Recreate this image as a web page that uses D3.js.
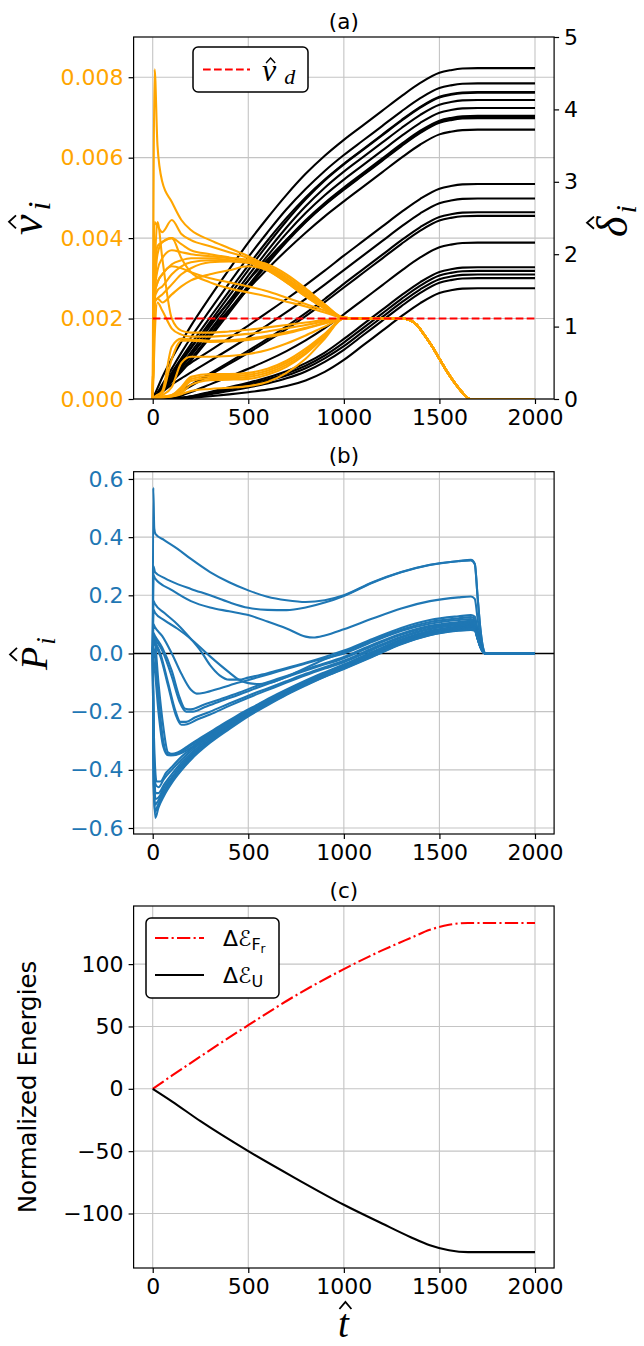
<!DOCTYPE html>
<html><head><meta charset="utf-8">
<script src="https://cdn.jsdelivr.net/npm/d3@7"></script>
<style>body{margin:0;background:#fff}svg{display:block}</style>
</head><body><svg id="c" width="644" height="1346"></svg>
<script>
// ---------------- DATA ----------------
const xTicks = [0, 500, 1000, 1500, 2000];
const vTicks = [0, 2, 4, 6, 8];            // ×1e-3
const dTicks = [0, 1, 2, 3, 4, 5];
const pTicks = [-0.6, -0.4, -0.2, 0, 0.2, 0.4, 0.6];
const eTicks = [-100, -50, 0, 50, 100];

// velocity v_i (×1e-3)
const tVelEarly = [0, 10, 25, 50, 100, 150, 200, 300, 400, 500, 600, 700, 800, 900, 1000];
const tVelTail = [1100, 1200, 1300, 1340, 1380, 1420, 1460, 1500, 1540, 1580, 1620, 1660, 2000];
const velTail = [2.0, 2.0, 2.0, 1.97, 1.85, 1.6, 1.32, 1.0, 0.68, 0.4, 0.16, 0, 0];
const vUpper = [
  [0, 8.2, 6.3, 5.4, 4.9, 4.45, 4.2, 3.95, 3.75, 3.55, 3.3, 3.0, 2.65, 2.3, 2.02],
  [0, 4.4, 4.3, 4.15, 4.45, 4.1, 3.95, 3.8, 3.65, 3.5, 3.25, 2.95, 2.6, 2.27, 2.02],
  [0, 3.0, 3.8, 3.9, 4.0, 3.85, 3.7, 3.6, 3.52, 3.45, 3.25, 2.95, 2.6, 2.28, 2.02],
  [0, 2.6, 3.2, 3.5, 3.7, 3.65, 3.6, 3.55, 3.5, 3.45, 3.35, 3.1, 2.75, 2.35, 2.02],
  [0, 2.6, 2.9, 3.1, 3.35, 3.45, 3.5, 3.5, 3.45, 3.4, 3.3, 3.05, 2.7, 2.35, 2.02],
  [0, 2.5, 2.7, 2.8, 3.1, 3.3, 3.4, 3.45, 3.45, 3.4, 3.25, 2.95, 2.6, 2.28, 2.02],
  [0, 2.4, 2.5, 2.6, 2.85, 3.1, 3.25, 3.4, 3.42, 3.38, 3.2, 2.9, 2.55, 2.25, 2.02],
  [0, 2.4, 2.5, 2.4, 2.6, 2.8, 2.95, 3.1, 3.2, 3.3, 3.2, 2.9, 2.55, 2.25, 2.02],
  [0, 2.5, 3.6, 3.9, 4.0, 3.5, 3.15, 2.9, 2.75, 2.65, 2.55, 2.42, 2.3, 2.15, 2.02],
  [0, 2.6, 2.9, 3.1, 3.3, 3.25, 3.15, 3.0, 2.9, 2.8, 2.68, 2.52, 2.36, 2.2, 2.02]
];
const vLower = [
  [0, 3.0, 4.4, 3.5, 2.0, 1.7, 1.65, 1.65, 1.68, 1.72, 1.78, 1.84, 1.9, 1.96, 2.0],
  [0, 1.5, 2.4, 2.2, 1.75, 1.6, 1.55, 1.55, 1.58, 1.62, 1.68, 1.76, 1.84, 1.93, 2.0],
  [0, 0.05, 0.1, 0.2, 1.3, 1.5, 1.48, 1.45, 1.46, 1.5, 1.57, 1.66, 1.77, 1.89, 2.0],
  [0, 0.05, 0.1, 0.15, 1.0, 1.45, 1.45, 1.42, 1.43, 1.47, 1.54, 1.63, 1.75, 1.88, 2.0],
  [0, 0.02, 0.05, 0.1, 0.3, 0.9, 1.05, 1.05, 1.07, 1.12, 1.22, 1.38, 1.58, 1.8, 2.0],
  [0, 0.02, 0.04, 0.06, 0.1, 0.3, 0.55, 0.62, 0.62, 0.65, 0.75, 0.95, 1.25, 1.62, 2.0],
  [0, 0.02, 0.04, 0.06, 0.1, 0.25, 0.5, 0.57, 0.57, 0.6, 0.7, 0.9, 1.2, 1.6, 2.0],
  [0, 0.02, 0.03, 0.05, 0.08, 0.2, 0.45, 0.52, 0.52, 0.55, 0.65, 0.85, 1.15, 1.57, 2.0],
  [0, 0.01, 0.02, 0.04, 0.07, 0.15, 0.35, 0.47, 0.48, 0.5, 0.6, 0.8, 1.12, 1.55, 2.0],
  [0, 0.01, 0.02, 0.03, 0.06, 0.12, 0.2, 0.25, 0.28, 0.32, 0.42, 0.65, 1.0, 1.5, 2.0]
];
const vDesired = 2.0; // ×1e-3

// displacement delta_i
const tDelta = [0, 25, 50, 100, 150, 200, 300, 400, 500, 600, 700, 800, 900, 1000, 1100, 1200, 1300, 1400, 1500, 1560, 1620, 1700, 2000];
const deltaUpper = [
  [0, 0.15, 0.30, 0.56, 0.79, 1.01, 1.41, 1.79, 2.16, 2.50, 2.82, 3.11, 3.36, 3.58, 3.78, 3.98, 4.18, 4.365, 4.505, 4.542, 4.564, 4.57, 4.57],
  [0, 0.09, 0.20, 0.42, 0.64, 0.85, 1.23, 1.60, 1.96, 2.30, 2.62, 2.90, 3.15, 3.37, 3.57, 3.77, 3.97, 4.155, 4.295, 4.332, 4.354, 4.36, 4.36],
  [0, 0.067, 0.165, 0.366, 0.565, 0.758, 1.129, 1.491, 1.845, 2.186, 2.501, 2.784, 3.032, 3.25, 3.45, 3.65, 3.85, 4.035, 4.175, 4.212, 4.234, 4.24, 4.24],
  [0, 0.058, 0.143, 0.327, 0.515, 0.700, 1.066, 1.426, 1.781, 2.129, 2.458, 2.757, 3.018, 3.24, 3.44, 3.64, 3.84, 4.025, 4.165, 4.202, 4.224, 4.23, 4.23],
  [0, 0.055, 0.131, 0.295, 0.468, 0.645, 1.002, 1.355, 1.704, 2.045, 2.368, 2.661, 2.918, 3.14, 3.34, 3.54, 3.74, 3.925, 4.065, 4.102, 4.124, 4.13, 4.13],
  [0, 0.052, 0.121, 0.27, 0.432, 0.6, 0.946, 1.294, 1.640, 1.976, 2.288, 2.568, 2.814, 3.03, 3.23, 3.43, 3.63, 3.815, 3.955, 3.992, 4.014, 4.02, 4.02],
  [0, 0.049, 0.113, 0.248, 0.397, 0.555, 0.886, 1.226, 1.565, 1.893, 2.197, 2.469, 2.708, 2.92, 3.12, 3.32, 3.52, 3.705, 3.845, 3.882, 3.904, 3.91, 3.91],
  [0, 0.049, 0.111, 0.237, 0.375, 0.526, 0.850, 1.190, 1.532, 1.862, 2.169, 2.443, 2.685, 2.90, 3.10, 3.30, 3.50, 3.685, 3.825, 3.862, 3.884, 3.89, 3.89],
  [0, 0.059, 0.152, 0.351, 0.541, 0.714, 1.035, 1.341, 1.639, 1.927, 2.198, 2.449, 2.680, 2.89, 3.09, 3.29, 3.49, 3.675, 3.815, 3.852, 3.874, 3.88, 3.88],
  [0, 0.053, 0.127, 0.285, 0.449, 0.612, 0.931, 1.234, 1.522, 1.796, 2.055, 2.297, 2.523, 2.73, 2.93, 3.13, 3.33, 3.515, 3.655, 3.692, 3.714, 3.72, 3.72]
];
const deltaLower = [
  [0, 0.073, 0.175, 0.317, 0.412, 0.499, 0.668, 0.840, 1.015, 1.195, 1.381, 1.574, 1.773, 1.98, 2.18, 2.38, 2.58, 2.765, 2.905, 2.942, 2.964, 2.97, 2.97],
  [0, 0.038, 0.097, 0.199, 0.285, 0.367, 0.526, 0.687, 0.852, 1.022, 1.199, 1.384, 1.579, 1.78, 1.98, 2.18, 2.38, 2.565, 2.705, 2.742, 2.764, 2.77, 2.77],
  [0, 0.002, 0.005, 0.041, 0.119, 0.196, 0.352, 0.508, 0.667, 0.830, 1.003, 1.186, 1.381, 1.59, 1.79, 1.99, 2.19, 2.375, 2.515, 2.552, 2.574, 2.58, 2.58],
  [0, 0.002, 0.005, 0.036, 0.103, 0.18, 0.333, 0.484, 0.638, 0.798, 0.965, 1.145, 1.338, 1.54, 1.74, 1.94, 2.14, 2.325, 2.465, 2.502, 2.524, 2.53, 2.53],
  [0, 0.001, 0.003, 0.013, 0.046, 0.096, 0.202, 0.308, 0.417, 0.533, 0.662, 0.809, 0.978, 1.17, 1.37, 1.57, 1.77, 1.955, 2.095, 2.132, 2.154, 2.16, 2.16],
  [0, 0.001, 0.002, 0.006, 0.016, 0.038, 0.098, 0.162, 0.225, 0.297, 0.383, 0.496, 0.642, 0.83, 1.03, 1.23, 1.43, 1.615, 1.755, 1.792, 1.814, 1.82, 1.82],
  [0, 0.001, 0.002, 0.006, 0.015, 0.033, 0.088, 0.146, 0.206, 0.272, 0.353, 0.459, 0.601, 0.78, 0.98, 1.18, 1.38, 1.565, 1.705, 1.742, 1.764, 1.77, 1.77],
  [0, 0.001, 0.002, 0.005, 0.012, 0.029, 0.078, 0.131, 0.186, 0.247, 0.323, 0.424, 0.562, 0.73, 0.93, 1.13, 1.33, 1.515, 1.655, 1.692, 1.714, 1.72, 1.72],
  [0, 0.0, 0.001, 0.004, 0.01, 0.023, 0.064, 0.111, 0.16, 0.215, 0.285, 0.38, 0.513, 0.68, 0.88, 1.08, 1.28, 1.465, 1.605, 1.642, 1.664, 1.67, 1.67],
  [0, 0.0, 0.001, 0.003, 0.008, 0.016, 0.038, 0.064, 0.094, 0.129, 0.179, 0.257, 0.375, 0.54, 0.74, 0.94, 1.14, 1.325, 1.465, 1.502, 1.524, 1.53, 1.53]
];

// power P_i : [t, P] pairs
const powerTop = [
  [[0,0],[3,0.57],[8,0.43],[15,0.41],[60,0.39],[130,0.36],[200,0.325],[300,0.28],[400,0.245],[500,0.217],[600,0.195],[700,0.183],[800,0.177],[900,0.183],[1000,0.2],[1150,0.245],[1300,0.28],[1450,0.305],[1600,0.318],[1665,0.322],[1685,0.309],[1700,0.193],[1715,0.08],[1732,0.01],[1742,0],[2000,0]],
  [[0,0],[4,0.3],[12,0.28],[60,0.26],[100,0.247],[200,0.222],[300,0.2],[400,0.176],[500,0.157],[600,0.15],[700,0.149],[800,0.158],[900,0.175],[1000,0.198],[1150,0.243],[1300,0.279],[1450,0.304],[1600,0.317],[1665,0.32],[1685,0.307],[1700,0.192],[1715,0.08],[1732,0.01],[1742,0],[2000,0]],
  [[0,0],[4,0.27],[12,0.258],[100,0.218],[200,0.18],[300,0.158],[400,0.145],[500,0.132],[600,0.11],[700,0.086],[800,0.058],[840,0.055],[900,0.062],[1000,0.083],[1150,0.12],[1300,0.155],[1450,0.18],[1600,0.193],[1665,0.196],[1685,0.188],[1700,0.118],[1715,0.049],[1732,0.006],[1742,0],[2000,0]]
];
const powerMid = [
  [[0,0],[4,0.18],[12,0.17],[60,0.14],[130,0.1],[200,0.05],[250,0.01],[300,-0.04],[350,-0.075],[400,-0.09],[450,-0.09],[500,-0.083],[600,-0.068],[700,-0.05],[800,-0.032],[900,-0.012],[1000,0.01],[1150,0.05],[1300,0.088],[1450,0.115],[1600,0.128],[1665,0.132],[1685,0.127],[1700,0.079],[1715,0.033],[1732,0.004],[1742,0],[2000,0]],
  [[0,0],[4,0.15],[12,0.14],[60,0.115],[130,0.085],[200,0.05],[300,-0.01],[400,-0.065],[450,-0.09],[500,-0.102],[560,-0.105],[620,-0.1],[700,-0.08],[800,-0.05],[900,-0.02],[1000,0.005],[1150,0.045],[1300,0.082],[1450,0.108],[1600,0.121],[1665,0.125],[1685,0.12],[1700,0.075],[1715,0.031],[1732,0.004],[1742,0],[2000,0]],
  [[0,0],[4,0.1],[12,0.09],[50,0.06],[100,0.0],[150,-0.07],[200,-0.125],[230,-0.138],[270,-0.135],[350,-0.12],[450,-0.1],[550,-0.082],[650,-0.063],[750,-0.044],[850,-0.025],[1000,0.0],[1150,0.04],[1300,0.077],[1450,0.102],[1600,0.115],[1665,0.118],[1685,0.113],[1700,0.071],[1715,0.03],[1732,0.004],[1742,0],[2000,0]],
  [[0,0],[4,0.07],[12,0.06],[50,0.02],[100,-0.06],[140,-0.15],[170,-0.19],[200,-0.192],[260,-0.178],[350,-0.158],[450,-0.135],[550,-0.11],[650,-0.088],[750,-0.066],[850,-0.044],[1000,-0.012],[1150,0.03],[1300,0.068],[1450,0.095],[1600,0.108],[1665,0.112],[1685,0.108],[1700,0.067],[1715,0.028],[1732,0.003],[1742,0],[2000,0]],
  [[0,0],[4,0.06],[12,0.05],[50,0.01],[100,-0.08],[140,-0.165],[175,-0.2],[210,-0.2],[270,-0.185],[350,-0.165],[450,-0.142],[550,-0.117],[650,-0.093],[750,-0.07],[850,-0.048],[1000,-0.016],[1150,0.026],[1300,0.064],[1450,0.091],[1600,0.104],[1665,0.108],[1685,0.104],[1700,0.065],[1715,0.027],[1732,0.003],[1742,0],[2000,0]],
  [[0,0],[4,0.05],[12,0.04],[40,0.0],[80,-0.1],[120,-0.2],[145,-0.235],[175,-0.235],[220,-0.22],[300,-0.2],[400,-0.172],[500,-0.145],[600,-0.12],[700,-0.095],[800,-0.07],[900,-0.047],[1000,-0.025],[1150,0.018],[1300,0.058],[1450,0.086],[1600,0.1],[1665,0.104],[1685,0.1],[1700,0.062],[1715,0.026],[1732,0.003],[1742,0],[2000,0]],
  [[0,0],[4,0.04],[12,0.03],[40,-0.01],[80,-0.11],[120,-0.21],[150,-0.245],[180,-0.243],[230,-0.228],[300,-0.21],[400,-0.18],[500,-0.152],[600,-0.126],[700,-0.1],[800,-0.075],[900,-0.052],[1000,-0.03],[1150,0.013],[1300,0.054],[1450,0.083],[1600,0.097],[1665,0.1],[1685,0.096],[1700,0.06],[1715,0.025],[1732,0.003],[1742,0],[2000,0]]
];
const powerLow = [
  [[0,0],[4,0.06],[10,0.05],[30,-0.1],[55,-0.25],[80,-0.34],[100,-0.345],[130,-0.34],[180,-0.32],[250,-0.29],[350,-0.25],[450,-0.21],[550,-0.175],[650,-0.14],[750,-0.108],[850,-0.078],[1000,-0.038],[1150,0.006],[1300,0.048],[1450,0.078],[1600,0.093],[1665,0.097],[1685,0.093],[1700,0.058],[1715,0.024],[1732,0.003],[1742,0],[2000,0]],
  [[0,0],[4,0.02],[10,0.0],[30,-0.15],[55,-0.3],[75,-0.345],[95,-0.35],[130,-0.345],[180,-0.325],[250,-0.295],[350,-0.255],[450,-0.215],[550,-0.18],[650,-0.145],[750,-0.112],[850,-0.082],[1000,-0.041],[1150,0.003],[1300,0.046],[1450,0.076],[1600,0.091],[1665,0.095],[1685,0.091],[1700,0.057],[1715,0.024],[1732,0.003],[1742,0],[2000,0]],
  [[0,0],[4,-0.02],[10,-0.05],[30,-0.2],[55,-0.32],[80,-0.35],[110,-0.35],[140,-0.345],[190,-0.328],[250,-0.3],[350,-0.26],[450,-0.22],[550,-0.184],[650,-0.149],[750,-0.116],[850,-0.085],[1000,-0.044],[1150,0.0],[1300,0.044],[1450,0.074],[1600,0.089],[1665,0.093],[1685,0.089],[1700,0.056],[1715,0.023],[1732,0.003],[1742,0],[2000,0]],
  [[0,0],[5,-0.25],[20,-0.44],[40,-0.44],[70,-0.41],[100,-0.39],[150,-0.355],[200,-0.328],[300,-0.28],[400,-0.236],[500,-0.197],[600,-0.16],[700,-0.127],[800,-0.096],[900,-0.068],[1000,-0.043],[1150,0.0],[1300,0.042],[1450,0.073],[1600,0.088],[1665,0.092],[1685,0.088],[1700,0.055],[1715,0.023],[1732,0.003],[1742,0],[2000,0]],
  [[0,0],[5,-0.3],[15,-0.45],[30,-0.46],[60,-0.43],[100,-0.4],[150,-0.365],[200,-0.335],[300,-0.285],[400,-0.24],[500,-0.2],[600,-0.163],[700,-0.13],[800,-0.098],[900,-0.07],[1000,-0.045],[1150,-0.002],[1300,0.04],[1450,0.071],[1600,0.086],[1665,0.09],[1685,0.086],[1700,0.054],[1715,0.023],[1732,0.003],[1742,0],[2000,0]],
  [[0,0],[5,-0.35],[15,-0.48],[30,-0.48],[60,-0.45],[100,-0.415],[150,-0.375],[200,-0.343],[300,-0.29],[400,-0.245],[500,-0.204],[600,-0.167],[700,-0.133],[800,-0.101],[900,-0.073],[1000,-0.047],[1150,-0.004],[1300,0.038],[1450,0.069],[1600,0.084],[1665,0.088],[1685,0.084],[1700,0.053],[1715,0.022],[1732,0.003],[1742,0],[2000,0]],
  [[0,0],[5,-0.38],[15,-0.5],[30,-0.495],[60,-0.46],[100,-0.425],[150,-0.383],[200,-0.35],[300,-0.296],[400,-0.25],[500,-0.208],[600,-0.17],[700,-0.136],[800,-0.104],[900,-0.075],[1000,-0.049],[1150,-0.006],[1300,0.036],[1450,0.067],[1600,0.082],[1665,0.086],[1685,0.083],[1700,0.052],[1715,0.022],[1732,0.003],[1742,0],[2000,0]],
  [[0,0],[5,-0.42],[12,-0.52],[25,-0.51],[60,-0.47],[100,-0.43],[150,-0.39],[200,-0.356],[300,-0.3],[400,-0.253],[500,-0.211],[600,-0.173],[700,-0.138],[800,-0.106],[900,-0.077],[1000,-0.05],[1150,-0.008],[1300,0.034],[1450,0.066],[1600,0.081],[1665,0.085],[1685,0.082],[1700,0.051],[1715,0.021],[1732,0.003],[1742,0],[2000,0]],
  [[0,0],[5,-0.45],[12,-0.545],[25,-0.525],[60,-0.48],[100,-0.438],[150,-0.397],[200,-0.36],[300,-0.303],[400,-0.256],[500,-0.213],[600,-0.175],[700,-0.14],[800,-0.108],[900,-0.079],[1000,-0.052],[1150,-0.01],[1300,0.033],[1450,0.064],[1600,0.08],[1665,0.083],[1685,0.08],[1700,0.05],[1715,0.021],[1732,0.002],[1742,0],[2000,0]],
  [[0,0],[5,-0.45],[14,-0.565],[30,-0.53],[60,-0.488],[100,-0.445],[150,-0.402],[200,-0.365],[300,-0.307],[400,-0.26],[500,-0.216],[600,-0.178],[700,-0.142],[800,-0.11],[900,-0.08],[1000,-0.053],[1150,-0.011],[1300,0.032],[1450,0.063],[1600,0.078],[1665,0.081],[1685,0.078],[1700,0.049],[1715,0.02],[1732,0.002],[1742,0],[2000,0]]
];

// energies
const tEnergy = [0, 100, 250, 500, 750, 1000, 1200, 1350, 1450, 1550, 1650, 2000];
const energyFr = [0, 10.5, 26, 51, 75, 96, 111, 121, 127.5, 131.5, 133, 133];
const energyU = [0, -10, -26, -50, -72, -93, -108, -119, -125.5, -129.5, -131, -131];

// ---------------- DRAWING ----------------
const svg = d3.select('#c');
const SANS = 'DejaVu Sans';
const SERIF = 'Liberation Serif';
const ORANGE = '#FFA500', BLUE = '#1f77b4';
const X0 = 133.6, X1 = 554.1;
const x = d3.scaleLinear().domain([-100, 2100]).range([X0, X1]);

const pA = {top: 37, bottom: 399};
const pB = {top: 471.7, bottom: 834};
const pC = {top: 906, bottom: 1268};

const yV = d3.scaleLinear().domain([0, 9]).range([pA.bottom, pA.top]);
const yD = d3.scaleLinear().domain([0, 5]).range([pA.bottom, pA.top]);
const yP = d3.scaleLinear().domain([-0.6206, 0.625]).range([pB.bottom, pB.top]);
const yE = d3.scaleLinear().domain([-143.7, 146.6]).range([pC.bottom, pC.top]);

function clip(id, p) {
  svg.append('clipPath').attr('id', id).append('rect')
    .attr('x', X0).attr('y', p.top).attr('width', X1 - X0).attr('height', p.bottom - p.top);
}
clip('ca', pA); clip('cb', pB); clip('cc', pC);

function grid(p, yScale, yt) {
  const g = svg.append('g').attr('stroke', '#c4c4c4').attr('stroke-width', 1.1);
  xTicks.forEach(t => g.append('line').attr('x1', x(t)).attr('x2', x(t)).attr('y1', p.top).attr('y2', p.bottom));
  yt.forEach(t => g.append('line').attr('x1', X0).attr('x2', X1).attr('y1', yScale(t)).attr('y2', yScale(t)));
}
function styleAxis(g, color) {
  g.select('.domain').remove();
  g.selectAll('line').attr('stroke', '#000').attr('stroke-width', 1.2);
  g.selectAll('text').attr('font-family', SANS).attr('font-size', 22).attr('fill', color);
}
function xAxis(p) {
  const g = svg.append('g').attr('transform', `translate(0,${p.bottom})`)
    .call(d3.axisBottom(x).tickValues(xTicks).tickSize(5).tickPadding(5).tickFormat(d3.format('d')));
  styleAxis(g, '#000');
}
function frame(p) {
  svg.append('rect').attr('x', X0).attr('y', p.top).attr('width', X1 - X0).attr('height', p.bottom - p.top)
    .attr('fill', 'none').attr('stroke', '#000').attr('stroke-width', 1.2);
}
function title(p, s) {
  svg.append('text').attr('x', (X0 + X1) / 2).attr('y', p.top - 8.5).attr('text-anchor', 'middle')
    .attr('font-family', SANS).attr('font-size', 21.5).text(s);
}
// math label: italic base glyph, a drawn hat accent, optional subscript (local coords)
function hatMath(g, o) {
  const base = g.append('text').attr('font-family', SERIF).attr('font-style', 'italic')
    .attr('font-size', o.size).attr('x', 0).attr('y', 0).text(o.base);
  const bw = base.node().getComputedTextLength();
  const cx = bw / 2 + (o.hatDx || 0);
  g.append('path')
    .attr('d', `M${cx - o.hatW / 2},${o.hatBase} L${cx},${o.hatBase - o.hatH} L${cx + o.hatW / 2},${o.hatBase}`)
    .attr('fill', 'none').attr('stroke', '#000').attr('stroke-width', o.hatSW || 1.6)
    .attr('stroke-linejoin', 'miter');
  if (o.sub) {
    g.append('text').attr('font-family', SERIF).attr('font-style', 'italic')
      .attr('font-size', o.subSize).attr('x', bw + (o.subDx || 0)).attr('y', o.subDy).text(o.sub);
  }
  return g;
}

const line = (xs, ys, yScale) => d3.line().curve(d3.curveMonotoneX)
  .x((d, i) => x(xs[i])).y((d, i) => yScale(ys[i]));

// ---------- Panel (a) ----------
grid(pA, yV, vTicks);
const gA = svg.append('g').attr('clip-path', 'url(#ca)').attr('fill', 'none');
deltaUpper.concat(deltaLower).forEach(vals => {
  gA.append('path').attr('d', line(tDelta, vals, yD)(vals))
    .attr('stroke', '#000').attr('stroke-width', 2.1).attr('stroke-linejoin', 'round');
});
const tVel = tVelEarly.concat(tVelTail);
vUpper.concat(vLower).forEach(arr => {
  const vals = arr.concat(velTail);
  gA.append('path').attr('d', line(tVel, vals, yV)(vals))
    .attr('stroke', ORANGE).attr('stroke-width', 2.1).attr('stroke-linejoin', 'round');
});
gA.append('line').attr('x1', x(0)).attr('x2', x(2000)).attr('y1', yV(vDesired)).attr('y2', yV(vDesired))
  .attr('stroke', '#ff0000').attr('stroke-width', 2.1).attr('stroke-dasharray', '7.7,3.3');
frame(pA);
xAxis(pA);
styleAxis(svg.append('g').attr('transform', `translate(${X0},0)`)
  .call(d3.axisLeft(yV).tickValues(vTicks).tickSize(5).tickPadding(5).tickFormat(d => (d / 1000).toFixed(3))), ORANGE);
styleAxis(svg.append('g').attr('transform', `translate(${X1},0)`)
  .call(d3.axisRight(yD).tickValues(dTicks).tickSize(5).tickPadding(5).tickFormat(d3.format('d'))), '#000');
title(pA, '(a)');
// legend (a)
const lgA = svg.append('g');
lgA.append('rect').attr('x', 193).attr('y', 47).attr('width', 115).attr('height', 45).attr('rx', 5)
  .attr('fill', '#fff').attr('stroke', '#000').attr('stroke-width', 1.5);
lgA.append('line').attr('x1', 203).attr('x2', 250).attr('y1', 69.5).attr('y2', 69.5)
  .attr('stroke', '#ff0000').attr('stroke-width', 2.1).attr('stroke-dasharray', '7.7,3.3');
hatMath(lgA.append('g').attr('transform', 'translate(262,81)'),
  {base: 'v', size: 32, hatBase: -18, hatH: 5, hatW: 9, hatDx: 1.5, hatSW: 1.4,
   sub: 'd', subSize: 22, subDx: 8, subDy: 3});
// axis labels (a)
hatMath(svg.append('g').attr('transform', 'translate(42,235) rotate(-90)'),
  {base: 'v', size: 46, hatBase: -26, hatH: 7, hatW: 13, hatDx: 3, hatSW: 1.8,
   sub: 'i', subSize: 32, subDx: 4, subDy: 8});
hatMath(svg.append('g').attr('transform', 'translate(627,237) rotate(-90)'),
  {base: 'δ', size: 44, hatBase: -33, hatH: 7, hatW: 12, hatDx: 4, hatSW: 1.8,
   sub: 'i', subSize: 30, subDx: 3, subDy: 9});

// ---------- Panel (b) ----------
grid(pB, yP, pTicks);
const gB = svg.append('g').attr('clip-path', 'url(#cb)').attr('fill', 'none');
gB.append('line').attr('x1', X0).attr('x2', X1).attr('y1', yP(0)).attr('y2', yP(0))
  .attr('stroke', '#000').attr('stroke-width', 1.3);
powerTop.concat(powerMid, powerLow).forEach(pts => {
  const ts = pts.map(d => d[0]), ps = pts.map(d => d[1]);
  gB.append('path').attr('d', line(ts, ps, yP)(pts))
    .attr('stroke', BLUE).attr('stroke-width', 2.1).attr('stroke-linejoin', 'round');
});
frame(pB);
xAxis(pB);
styleAxis(svg.append('g').attr('transform', `translate(${X0},0)`)
  .call(d3.axisLeft(yP).tickValues(pTicks).tickSize(5).tickPadding(5).tickFormat(d3.format('.1f'))), BLUE);
title(pB, '(b)');
hatMath(svg.append('g').attr('transform', 'translate(47,670) rotate(-90)'),
  {base: 'P', size: 38, hatBase: -30, hatH: 7, hatW: 13, hatDx: 4, hatSW: 1.8,
   sub: 'i', subSize: 27, subDx: 2, subDy: 8});

// ---------- Panel (c) ----------
grid(pC, yE, eTicks);
const gC = svg.append('g').attr('clip-path', 'url(#cc)').attr('fill', 'none');
gC.append('path').attr('d', line(tEnergy, energyFr, yE)(energyFr))
  .attr('stroke', '#ff0000').attr('stroke-width', 2.1).attr('stroke-dasharray', '13.3,3.3,2.1,3.3');
gC.append('path').attr('d', line(tEnergy, energyU, yE)(energyU))
  .attr('stroke', '#000').attr('stroke-width', 2.1);
frame(pC);
xAxis(pC);
styleAxis(svg.append('g').attr('transform', `translate(${X0},0)`)
  .call(d3.axisLeft(yE).tickValues(eTicks).tickSize(5).tickPadding(5).tickFormat(d3.format('d'))), '#000');
title(pC, '(c)');
svg.append('text').attr('transform', 'translate(36,1087) rotate(-90)').attr('text-anchor', 'middle')
  .attr('font-family', SANS).attr('font-size', 24.5).text('Normalized Energies');
hatMath(svg.append('g').attr('transform', 'translate(338,1337)'),
  {base: 't', size: 39, hatBase: -28, hatH: 7, hatW: 12, hatDx: 2, hatSW: 1.8});
// legend (c)
const lgC = svg.append('g');
lgC.append('rect').attr('x', 146).attr('y', 918).attr('width', 133).attr('height', 80).attr('rx', 5)
  .attr('fill', '#fff').attr('stroke', '#000').attr('stroke-width', 1.5);
lgC.append('line').attr('x1', 155).attr('x2', 204).attr('y1', 938).attr('y2', 938)
  .attr('stroke', '#ff0000').attr('stroke-width', 2.1).attr('stroke-dasharray', '13.3,3.3,2.1,3.3');
lgC.append('line').attr('x1', 155).attr('x2', 204).attr('y1', 975).attr('y2', 975)
  .attr('stroke', '#000').attr('stroke-width', 2.1);
const t1 = lgC.append('text').attr('x', 223).attr('y', 946).attr('font-family', SANS).attr('font-size', 22);
t1.append('tspan').text('Δℰ');
t1.append('tspan').attr('font-size', 16).attr('dy', 4).text('F');
t1.append('tspan').attr('font-size', 12).attr('dy', 3).text('r');
const t2 = lgC.append('text').attr('x', 223).attr('y', 983).attr('font-family', SANS).attr('font-size', 22);
t2.append('tspan').text('Δℰ');
t2.append('tspan').attr('font-size', 16).attr('dy', 4).text('U');
</script></body></html>
